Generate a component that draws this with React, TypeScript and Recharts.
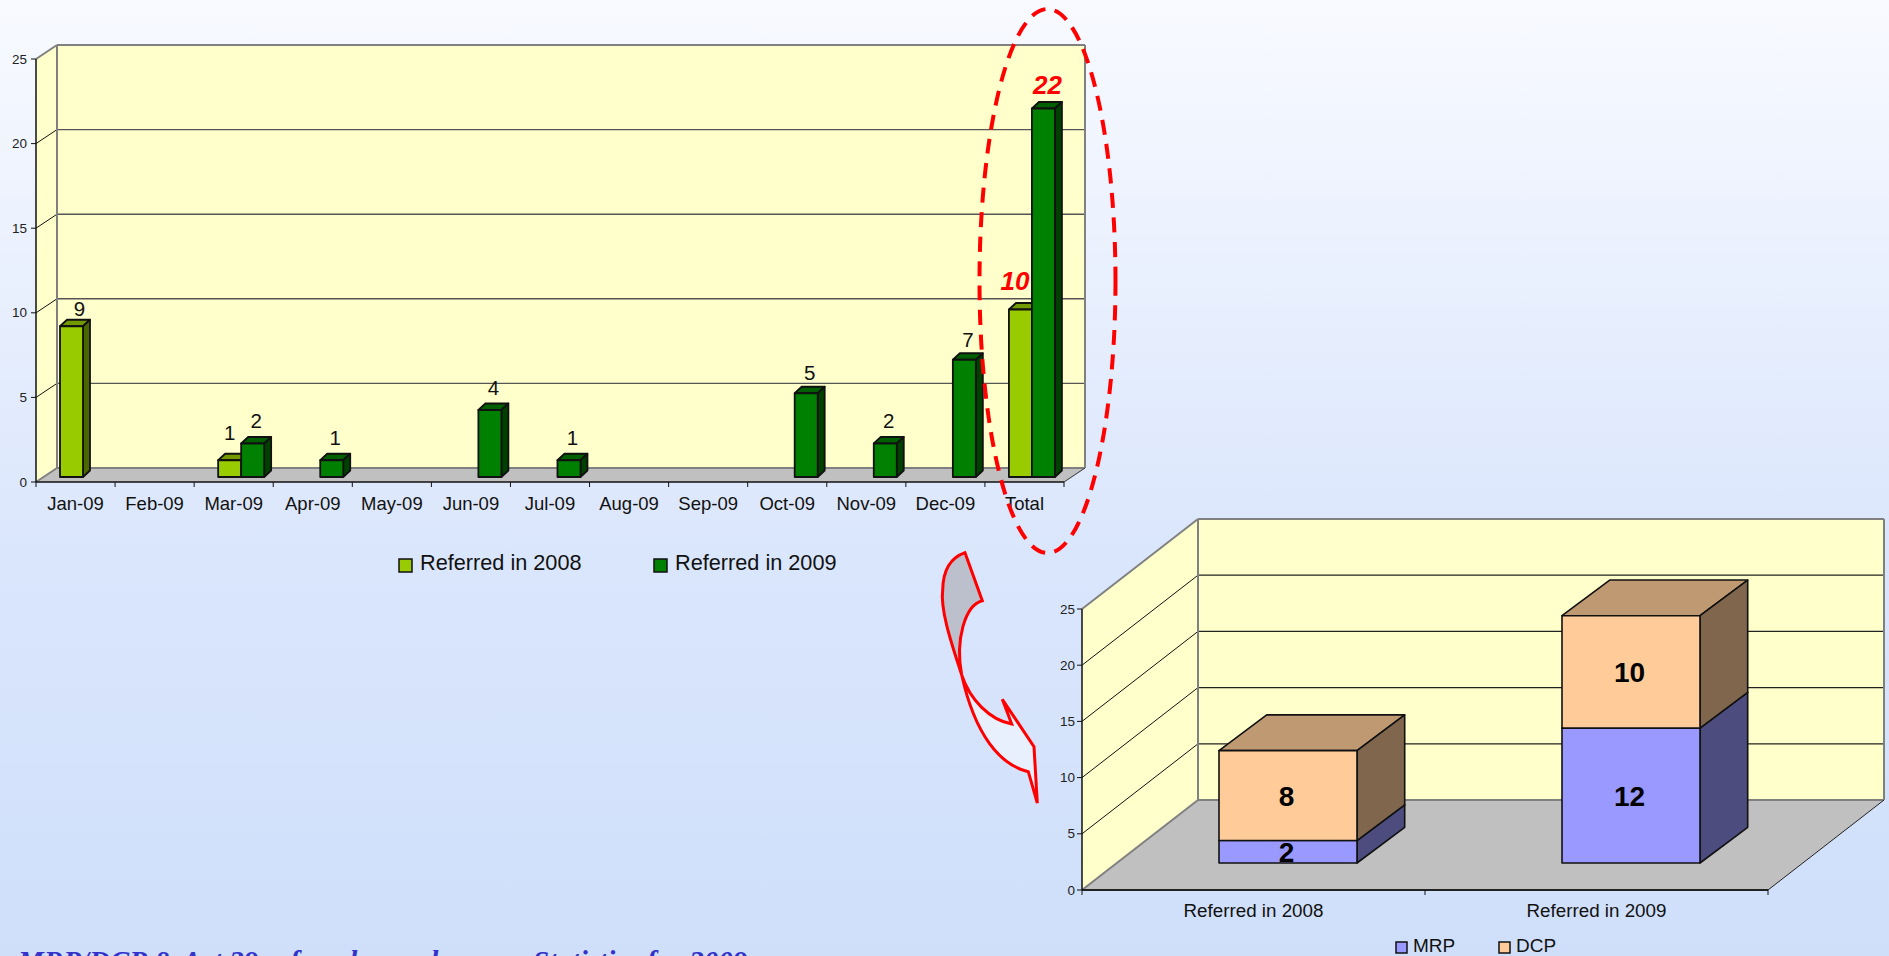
import React from "react";
import { BarChart, Bar, XAxis, YAxis, ReferenceArea, Legend, LabelList } from "recharts";

const months = ["Jan-09","Feb-09","Mar-09","Apr-09","May-09","Jun-09","Jul-09","Aug-09","Sep-09","Oct-09","Nov-09","Dec-09","Total"];
const referred2008 = [9,null,1,null,null,null,null,null,null,null,null,null,10];
const referred2009 = [null,null,2,1,null,4,1,null,null,5,2,7,22];
const valueTicks = [0,5,10,15,20,25];

const years = ["Referred in 2008","Referred in 2009"];
const mrp = [2,12];
const dcp = [8,10];

const monthlyRows = months.map((m,i)=>({ name:m, r2008:referred2008[i], r2009:referred2009[i] }));
const yearRows = years.map((y,i)=>({ name:y, mrp:mrp[i], dcp:dcp[i] }));

const FONT = "'Liberation Sans', Arial, sans-serif";
const WALL = "#FFFFCC";
const FLOOR = "#C0C0C0";
const EDGE = "#808080";
const MAX_VALUE = valueTicks[valueTicks.length-1];

// ---------- 3-D room: walls, floor and the gridlines that run across them ----------
function Room(p: any) {
  const { x, y, width, height, dx, dy, edge, gridStroke, gridWidth } = p;
  const r = x + width, b = y + height;
  const inner = valueTicks.filter(v => v > 0 && v < MAX_VALUE);
  return (
    <g>
      <polygon points={`${x},${y} ${x+dx},${y+dy} ${x+dx},${b+dy} ${x},${b}`} fill={WALL} />
      <polygon points={`${x+dx},${y+dy} ${r+dx},${y+dy} ${r+dx},${b+dy} ${x+dx},${b+dy}`} fill={WALL} />
      <polygon points={`${x},${b} ${x+dx},${b+dy} ${r+dx},${b+dy} ${r},${b}`} fill={FLOOR} />
      {inner.map(v => {
        const ly = b - height * v / MAX_VALUE;
        return (
          <g key={v}>
            <line x1={x} y1={ly} x2={x+dx} y2={ly+dy} stroke="#111" strokeWidth={1} />
            <line x1={x+dx} y1={ly+dy} x2={r+dx} y2={ly+dy} stroke={gridStroke} strokeWidth={gridWidth} />
          </g>
        );
      })}
      <line x1={x} y1={y} x2={x+dx} y2={y+dy} stroke={EDGE} strokeWidth={2} />
      <line x1={x+dx} y1={y+dy} x2={r+dx} y2={y+dy} stroke={EDGE} strokeWidth={2} />
      <line x1={x+dx} y1={y+dy} x2={x+dx} y2={b+dy} stroke={EDGE} strokeWidth={2} />
      <line x1={x} y1={b} x2={x+dx} y2={b+dy} stroke={EDGE} strokeWidth={2} />
      <line x1={x+dx} y1={b+dy} x2={r+dx} y2={b+dy} stroke={EDGE} strokeWidth={2} />
      <line x1={r} y1={b} x2={r+dx} y2={b+dy} stroke={edge} strokeWidth={1} />
      <line x1={r+dx} y1={y+dy} x2={r+dx} y2={b+dy} stroke={EDGE} strokeWidth={2} />
    </g>
  );
}

// ---------- 3-D bar (foreshortened: bars stand further back than the front axis) ----------
function Box(p: any) {
  const { x, y, width, height, front, top, side, shiftX, shiftY, depthX, depthY, sw, label, foreshorten = 1 } = p;
  if (!height || height <= 0) return null;
  const h = height * foreshorten;
  const l = x + shiftX, b = y + height + shiftY, t = b - h, r = l + width;
  return (
    <g>
      <g stroke="#111" strokeWidth={sw} strokeLinejoin="round">
        <polygon points={`${l},${t} ${l+depthX},${t+depthY} ${r+depthX},${t+depthY} ${r},${t}`} fill={top} />
        <polygon points={`${r},${t} ${r+depthX},${t+depthY} ${r+depthX},${b+depthY} ${r},${b}`} fill={side} />
        <rect x={l} y={t} width={width} height={h} fill={front} />
      </g>
      {label ? label(l + width/2, t, p.payload.name, p.value) : null}
    </g>
  );
}

// ---------- axes ----------
function bandTick(band: number, lastIndex: number, baseline: number, size: number, axisY: number) {
  return (p: any) => {
    const { x, payload, index } = p;
    return (
      <g>
        <line x1={x-band/2} x2={x-band/2} y1={axisY} y2={axisY+5} stroke="#111" />
        {index === lastIndex && <line x1={x+band/2} x2={x+band/2} y1={axisY} y2={axisY+5} stroke="#111" />}
        <text x={x} y={baseline} textAnchor="middle" fontFamily={FONT} fontSize={size} fill="#111">{payload.value}</text>
      </g>
    );
  };
}

function LegendBlock(items: { label: string; color: string; at: number }[], size: number, box: number, top: number, baseline: number, textGap: number) {
  return () => (
    <svg width={items[items.length-1].at + 300} height={40} style={{ display: "block", overflow: "visible" }}>
      {items.map(it => (
        <g key={it.label}>
          <rect x={it.at} y={top} width={box} height={box} fill={it.color} stroke="#111" strokeWidth={1.5} />
          <text x={it.at + textGap} y={baseline} fontFamily={FONT} fontSize={size} fill="#111">{it.label}</text>
        </g>
      ))}
    </svg>
  );
}

// ---------- data labels ----------
const labelTweaks2008: Record<string,[number,number]> = { "Jan-09":[8,-10.7], "Mar-09":[0,-20.6], "Total":[-5.5,-19] };
const labelTweaks2009: Record<string,[number,number]> = { "Mar-09":[3.5,-15.3], "Oct-09":[3.5,-13], "Dec-09":[3.5,-13], "Total":[4,-14.4] };

function monthLabel(tweaks: Record<string,[number,number]>, fallback: [number,number]) {
  return (cx: number, top: number, name: string, value: number) => {
    const [ox, oy] = tweaks[name] || fallback;
    const total = name === "Total";
    return (
      <text x={cx + ox} y={top + oy} textAnchor="middle" fontFamily={FONT}
        fontSize={total ? 26 : 20.5} fontWeight={total ? 700 : 400} fontStyle={total ? "italic" : "normal"}
        fill={total ? "#FF0000" : "#111"} stroke="none">{value}</text>
    );
  };
}

function stackLabel(p: any) {
  const { x, y, width, height, value } = p;
  return (
    <text x={x + 34 + width/2 - 1.5} y={y - 27 + height/2 + 10} textAnchor="middle" fontFamily={FONT}
      fontSize={28} fontWeight={700} fill="#000">{value}</text>
  );
}

const yTick = (p: any) => (
  <text x={p.x} y={p.y + 4.5} textAnchor="end" fontFamily={FONT} fontSize={13.5} fill="#222">{p.payload.value}</text>
);

function MonthlyChart() {
  const dx = 21, dy = -14;
  const box = { shiftX: 7, shiftY: -5, depthX: 7, depthY: -6.5, sw: 1.8, foreshorten: 0.99 };
  return (
    <BarChart width={1100} height={600} data={monthlyRows} barGap={0} barSize={23}
      margin={{ top: 59, left: 0, right: 36, bottom: 88 }} style={{ position: "absolute", left: 0, top: 0, overflow: "visible" }}>
      <ReferenceArea y1={0} y2={25} ifOverflow="visible"
        shape={(p: any) => <Room {...p} dx={dx} dy={dy} edge="#333" gridStroke="#555" gridWidth={1.4} />} />
      <XAxis dataKey="name" height={30} interval={0} tickLine={false} tickSize={0} tickMargin={0}
        axisLine={{ stroke: "#111", strokeWidth: 1.5 }}
        tick={bandTick(1028/13, 12, 510, 18.5, 482) as any} />
      <YAxis type="number" domain={[0,25]} ticks={valueTicks} width={36} interval={0} tickSize={5} tickMargin={4}
        axisLine={{ stroke: "#111", strokeWidth: 1.5 }} tickLine={{ stroke: "#111" }} tick={yTick} />
      <Bar dataKey="r2008" isAnimationActive={false}
        shape={(p: any) => <Box {...p} {...box} front="#99CC00" top="#739900" side="#4C6600" label={monthLabel(labelTweaks2008, [0,-15])} />} />
      <Bar dataKey="r2009" isAnimationActive={false}
        shape={(p: any) => <Box {...p} {...box} front="#008000" top="#006000" side="#004000" label={monthLabel(labelTweaks2009, [3.5,-15])} />} />
      <Legend layout="horizontal" verticalAlign="middle" align="center"
        wrapperStyle={{ left: 0, top: 540, width: 1100, height: 40 }}
        content={LegendBlock([
          { label: "Referred in 2008", color: "#99CC00", at: 399 },
          { label: "Referred in 2009", color: "#008000", at: 654 },
        ], 21.7, 13, 19, 30, 21) as any} />
    </BarChart>
  );
}

function YearChart() {
  const dx = 116, dy = -90;
  const box = { shiftX: 34, shiftY: -27, depthX: 47.7, depthY: -35.7, sw: 1.6 };
  return (
    <BarChart width={849} height={456} data={yearRows} barSize={138}
      margin={{ top: 109, left: 0, right: 121, bottom: 36 }}
      style={{ position: "absolute", left: 1040, top: 500, overflow: "visible" }}>
      <ReferenceArea y1={0} y2={25} ifOverflow="visible"
        shape={(p: any) => <Room {...p} dx={dx} dy={dy} edge="#222" gridStroke="#222" gridWidth={1.2} />} />
      <XAxis dataKey="name" height={30} interval={0} tickLine={false} tickSize={0} tickMargin={0}
        axisLine={{ stroke: "#222", strokeWidth: 2 }}
        tick={bandTick(343, 1, 417, 18.8, 390) as any} />
      <YAxis type="number" domain={[0,25]} ticks={valueTicks} width={42} interval={0} tickSize={5} tickMargin={2}
        axisLine={{ stroke: "#111", strokeWidth: 1.5 }} tickLine={{ stroke: "#111" }} tick={yTick} />
      <Bar dataKey="mrp" stackId="a" isAnimationActive={false}
        shape={(p: any) => <Box {...p} {...box} front="#9999FF" top="#7373BF" side="#4C4C7F" />}>
        <LabelList dataKey="mrp" content={stackLabel as any} />
      </Bar>
      <Bar dataKey="dcp" stackId="a" isAnimationActive={false}
        shape={(p: any) => <Box {...p} {...box} front="#FFCC99" top="#BF9972" side="#7F664C" />}>
        <LabelList dataKey="dcp" content={stackLabel as any} />
      </Bar>
      <Legend layout="horizontal" verticalAlign="middle" align="center"
        wrapperStyle={{ left: 0, top: 425, width: 849, height: 31 }}
        content={LegendBlock([
          { label: "MRP", color: "#9999FF", at: 356 },
          { label: "DCP", color: "#FFCC99", at: 459 },
        ], 19, 11, 17, 27, 17) as any} />
    </BarChart>
  );
}

export default function App() {
  return (
    <div style={{ position: "fixed", left: 0, top: 0, width: 1889, height: 956, overflow: "hidden",
      background: "linear-gradient(180deg, #F8FAFF 0%, #DAE6FC 58%, #CFDFFA 100%)" }}>
      <MonthlyChart />
      <YearChart />
      <svg width={1889} height={956} style={{ position: "absolute", left: 0, top: 0, pointerEvents: "none" }}>
        <ellipse cx={1047.5} cy={281} rx={68} ry={272} fill="none" stroke="#FF0000" strokeWidth={4} strokeDasharray="15 9.5" />
        <path d="M965,552.7 L982.3,600.7 C965,605 955,640 961.7,675 C952,645 940,610 942.7,590 C943,570 950,558 965,552.7 Z"
          fill="#BBC0CC" stroke="#FF0000" strokeWidth={3} strokeLinejoin="miter" />
        <path d="M961.7,675 C970,700 990,720 1011.7,724 L1002.3,699.3 L1034,746.7 L1037.3,803 L1028.3,771.7 C1000,765 975,735 961.7,675 Z"
          fill="#E8F0FE" stroke="#FF0000" strokeWidth={3} strokeLinejoin="miter" />
        <text y={971} fontFamily="'Liberation Serif', serif" fontWeight={700} fontStyle="italic" fontSize={29} fill="#3333CC">
          <tspan x={18}>MRP/DCP &amp; Act 29 referrals numbers</tspan>
          <tspan x={533}>Statistics for 2009</tspan>
        </text>
      </svg>
    </div>
  );
}
